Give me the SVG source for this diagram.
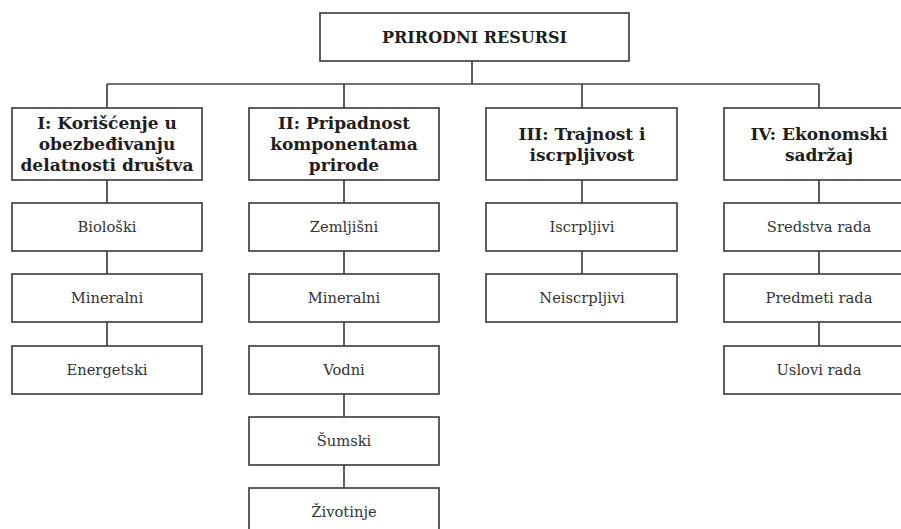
<svg xmlns="http://www.w3.org/2000/svg" width="901" height="529" viewBox="0 0 901 529">
<style>
rect{fill:#fff;stroke:#444;stroke-width:1.7}
.c line{stroke:#444;stroke-width:1.7}
.h{font-family:"DejaVu Serif","Liberation Serif",serif;font-weight:bold;fill:#1e1e1e;text-anchor:middle}
.n{font-family:"DejaVu Serif","Liberation Serif",serif;font-size:14.7px;fill:#333;text-anchor:middle}
.t{font-size:16px}
.k{font-size:17px}
</style>
<rect x="0" y="0" width="901" height="529" style="stroke:none"/>
<g id="connectors" class="c">
<line x1="472" y1="61" x2="472" y2="84"/>
<line x1="107" y1="84" x2="819" y2="84"/>
<line x1="107" y1="84" x2="107" y2="108"/>
<line x1="344" y1="84" x2="344" y2="108"/>
<line x1="582" y1="84" x2="582" y2="108"/>
<line x1="819" y1="84" x2="819" y2="108"/>
<line x1="107" y1="180" x2="107" y2="203"/>
<line x1="107" y1="251" x2="107" y2="274"/>
<line x1="107" y1="322" x2="107" y2="346"/>
<line x1="344" y1="180" x2="344" y2="203"/>
<line x1="344" y1="251" x2="344" y2="274"/>
<line x1="344" y1="322" x2="344" y2="346"/>
<line x1="344" y1="394" x2="344" y2="417"/>
<line x1="344" y1="465" x2="344" y2="488"/>
<line x1="582" y1="180" x2="582" y2="203"/>
<line x1="582" y1="251" x2="582" y2="274"/>
<line x1="819" y1="180" x2="819" y2="203"/>
<line x1="819" y1="251" x2="819" y2="274"/>
<line x1="819" y1="322" x2="819" y2="346"/>
</g>
<g id="root"><rect x="320" y="13" width="309" height="48"/><text class="h t" x="474.5" y="42.5">PRIRODNI RESURSI</text></g>
<g id="cat1"><rect x="12" y="108" width="190" height="72"/><text class="h k" x="107"><tspan x="107" y="129">I: Korišćenje u</tspan><tspan x="107" y="150">obezbeđivanju</tspan><tspan x="107" y="171">delatnosti društva</tspan></text></g>
<g id="cat2"><rect x="249" y="108" width="190" height="72"/><text class="h k" x="344"><tspan x="344" y="129">II: Pripadnost</tspan><tspan x="344" y="150">komponentama</tspan><tspan x="344" y="171">prirode</tspan></text></g>
<g id="cat3"><rect x="486" y="108" width="191" height="72"/><text class="h k" x="582"><tspan x="582" y="139.5">III: Trajnost i</tspan><tspan x="582" y="160.5">iscrpljivost</tspan></text></g>
<g id="cat4"><rect x="724" y="108" width="190" height="72"/><text class="h k" x="819"><tspan x="819" y="139.5">IV: Ekonomski</tspan><tspan x="819" y="160.5">sadržaj</tspan></text></g>
<g id="bioloski"><rect x="12" y="203" width="190" height="48"/><text class="n" x="107" y="232">Biološki</text></g>
<g id="mineralni1"><rect x="12" y="274" width="190" height="48"/><text class="n" x="107" y="303">Mineralni</text></g>
<g id="energetski"><rect x="12" y="346" width="190" height="48"/><text class="n" x="107" y="375">Energetski</text></g>
<g id="zemljisni"><rect x="249" y="203" width="190" height="48"/><text class="n" x="344" y="232">Zemljišni</text></g>
<g id="mineralni2"><rect x="249" y="274" width="190" height="48"/><text class="n" x="344" y="303">Mineralni</text></g>
<g id="vodni"><rect x="249" y="346" width="190" height="48"/><text class="n" x="344" y="375">Vodni</text></g>
<g id="sumski"><rect x="249" y="417" width="190" height="48"/><text class="n" x="344" y="446">Šumski</text></g>
<g id="zivotinje"><rect x="249" y="488" width="190" height="48"/><text class="n" x="344" y="517">Životinje</text></g>
<g id="iscrpljivi"><rect x="486" y="203" width="191" height="48"/><text class="n" x="582" y="232">Iscrpljivi</text></g>
<g id="neiscrpljivi"><rect x="486" y="274" width="191" height="48"/><text class="n" x="582" y="303">Neiscrpljivi</text></g>
<g id="sredstva"><rect x="724" y="203" width="190" height="48"/><text class="n" x="819" y="232">Sredstva rada</text></g>
<g id="predmeti"><rect x="724" y="274" width="190" height="48"/><text class="n" x="819" y="303">Predmeti rada</text></g>
<g id="uslovi"><rect x="724" y="346" width="190" height="48"/><text class="n" x="819" y="375">Uslovi rada</text></g>
</svg>
